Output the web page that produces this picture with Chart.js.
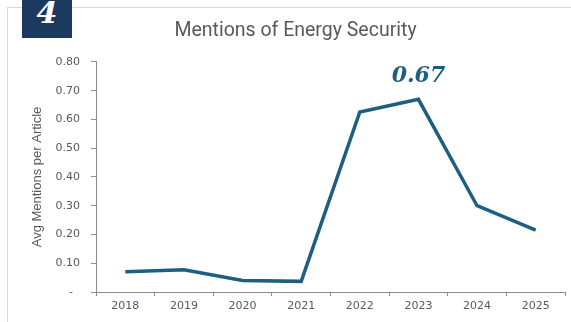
<!DOCTYPE html>
<html>
<head>
<meta charset="utf-8">
<script src="https://cdn.jsdelivr.net/npm/chart.js@4"></script>
<style>
  html, body { margin: 0; padding: 0; background: #fff; }
  .wrap { position: relative; width: 571px; height: 322px; overflow: hidden; }
  .frame { position: absolute; left: 7px; top: 7px; width: 580px; height: 340px;
    border-left: 1px solid #d9d9d9; border-top: 1px solid #d9d9d9; }
  .badge { position: absolute; left: 22px; top: 0; width: 50px; height: 38px; background: #1b3a5e;
    color: #fff; font: italic bold 30px 'DejaVu Serif', serif; text-align: center; line-height: 26px; }
  canvas { position: absolute; left: 0; top: 0; }
</style>
</head>
<body>
<div class="wrap">
  <div class="frame"></div>
  <canvas id="myChart" width="571" height="322"></canvas>
  <div class="badge">4</div>
</div>
<script>
const years = ['2018', '2019', '2020', '2021', '2022', '2023', '2024', '2025'];
const mentions = [0.07, 0.077, 0.04, 0.037, 0.626, 0.67, 0.30, 0.215];
const y_ticks = [0, 0.1, 0.2, 0.3, 0.4, 0.5, 0.6, 0.7, 0.8];
const peak_index = 5;
const peak_label = '0.67';

const LINE_COLOR = '#1c5f80';
const AXIS_COLOR = '#8c8c8c';
const TEXT_COLOR = '#595959';

// draws the bold italic label above the 2023 point
const peakLabel = {
  id: 'peakLabel',
  afterDatasetsDraw(chart) {
    const pt = chart.getDatasetMeta(0).data[peak_index];
    const ctx = chart.ctx;
    ctx.save();
    ctx.font = 'italic bold 22px "DejaVu Serif", serif';
    ctx.fillStyle = LINE_COLOR;
    ctx.textAlign = 'center';
    ctx.textBaseline = 'middle';
    ctx.fillText(peak_label, pt.x, pt.y - 23);
    ctx.restore();
  },
};

const ctx = document.getElementById('myChart').getContext('2d');

new Chart(ctx, {
  type: 'line',
  data: {
    labels: years,
    datasets: [
      {
        data: mentions,
        borderColor: LINE_COLOR,
        borderWidth: 3.5,
        tension: 0,
        pointRadius: 0,
        fill: false,
        borderJoinStyle: 'miter',
      },
    ],
  },
  options: {
    responsive: false,
    animation: false,
    layout: { padding: { left: 26, right: 6, top: 0, bottom: 0 } },
    scales: {
      x: {
        offset: true,
        grid: {
          offset: true,
          drawOnChartArea: false,
          drawTicks: true,
          tickLength: 4,
          color: AXIS_COLOR,
        },
        border: { color: AXIS_COLOR, width: 1 },
        ticks: {
          color: TEXT_COLOR,
          font: { family: 'DejaVu Sans', size: 11 },
          padding: 4,
          maxRotation: 0,
        },
        afterFit: (scale) => { scale.height = 30; },
      },
      y: {
        min: 0,
        max: 0.8,
        afterBuildTicks: (scale) => { scale.ticks = y_ticks.map((v) => ({ value: v })); },
        grid: {
          drawOnChartArea: false,
          drawTicks: true,
          tickLength: 5,
          color: AXIS_COLOR,
        },
        border: { color: AXIS_COLOR, width: 1 },
        ticks: {
          color: TEXT_COLOR,
          font: { family: 'DejaVu Sans', size: 11 },
          padding: 11,
          callback: (v) => (v === 0 ? '-  ' : v.toFixed(2)),
        },
        title: {
          display: true,
          text: 'Avg Mentions per Article',
          color: TEXT_COLOR,
          font: { family: '"Liberation Sans Narrow", "Liberation Sans", sans-serif', size: 13 },
          padding: { top: 4, bottom: 0 },
        },
        afterFit: (scale) => { scale.width = 70; },
      },
    },
    plugins: {
      legend: { display: false },
      tooltip: { enabled: false },
      title: {
        display: true,
        text: 'Mentions of Energy Security',
        color: TEXT_COLOR,
        font: { family: 'Roboto', size: 19.5, weight: 'normal', lineHeight: 1.1 },
        padding: { top: 20, bottom: 20.5 },
      },
    },
  },
  plugins: [peakLabel],
});
</script>
</body>
</html>
